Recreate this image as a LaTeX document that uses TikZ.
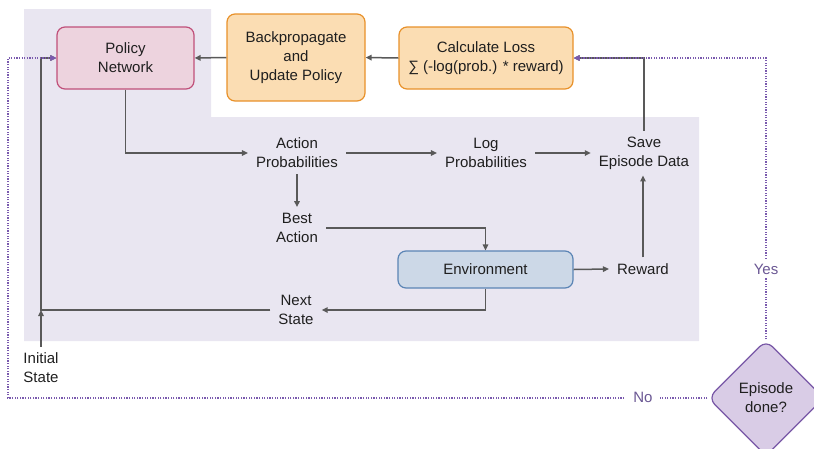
\documentclass[tikz,border=0pt]{standalone}
\usepackage{fontspec}
\setmainfont{Liberation Sans}
\usetikzlibrary{arrows.meta,shapes.geometric}

\definecolor{bgarea}{HTML}{E9E6F1}
\definecolor{linegray}{HTML}{595959}
\definecolor{polfill}{HTML}{EDD3DE}
\definecolor{poldraw}{HTML}{C0507A}
\definecolor{orfill}{HTML}{FBDDB3}
\definecolor{ordraw}{HTML}{E8912A}
\definecolor{envfill}{HTML}{CCD8E7}
\definecolor{envdraw}{HTML}{5B85B5}
\definecolor{decfill}{HTML}{D9CCE6}
\definecolor{decdraw}{HTML}{7857A6}
\definecolor{decline}{HTML}{7A5AAE}
\definecolor{dectext}{HTML}{6B5894}

\tikzset{
    every node/.style={font=\fontsize{15}{19}\selectfont, align=center, text=black!88},
    box/.style={rounded corners=8pt, line width=1.2pt},
    policybox/.style={box, fill=polfill, draw=poldraw},
    trainbox/.style={box, fill=orfill, draw=ordraw},
    envbox/.style={box, fill=envfill, draw=envdraw},
    decision/.style={diamond, rounded corners=9pt, line width=1.2pt, fill=decfill, draw=decdraw,
        minimum width=116pt, minimum height=116pt, inner sep=1pt},
    textlabel/.style={inner xsep=8pt, inner ysep=6pt},
    answer/.style={fill=white, text=dectext, inner xsep=7pt},
    flow/.style={draw=linegray, line width=1.5pt, -{Triangle[length=6pt,width=5.5pt]}},
    loop/.style={draw=decline, line width=1.5pt, dash pattern=on 1.3pt off 1.3pt,
        -{Triangle[length=6pt,width=5.5pt]}}
}

\begin{document}
\begin{tikzpicture}[x=1pt, y=-1pt]
    \useasboundingbox (0,0) rectangle (814,448);
    \clip (0,0) rectangle (814,448);
    \fill[bgarea] (24,9) -- (211,9) -- (211,117) -- (699,117) -- (699,341) -- (24,341) -- cycle;

    \node[policybox, minimum width=137pt, minimum height=62pt] (policy) at (125.5,58) {Policy\\Network};
    \node[trainbox, minimum width=138pt, minimum height=87pt] (backprop) at (296,57.5) {Backpropagate\\and\\Update Policy};
    \node[trainbox, minimum width=174pt, minimum height=62pt] (loss) at (486,58) {Calculate Loss\\∑ (-log(prob.) * reward)};
    \node[envbox, minimum width=175pt, minimum height=37pt] (env) at (485.5,269.5) {Environment};
    \node[decision] (done) at (766,398) {Episode\\done?};

    \node[textlabel] (actprob) at (297,153) {Action\\Probabilities};
    \node[textlabel] (logprob) at (486,153) {Log\\Probabilities};
    \node[textlabel] (save) at (644,153) {Save\\Episode Data};
    \node[textlabel] (best) at (297,228) {Best\\Action};
    \node[textlabel] (reward) at (643,269) {Reward};
    \node[textlabel] (next) at (296,310) {Next\\State};
    \node[textlabel] (init) at (41,368) {Initial\\State};

    \coordinate (feed) at (init |- policy.west);
    \coordinate (outer) at (8,58);

    \draw[flow] (policy.south) |- (actprob.west);
    \draw[flow] (actprob.east) -- (logprob.west);
    \draw[flow] (logprob.east) -- (save.west);
    \draw[flow] (actprob.south) -- (best.north);
    \draw[flow] (best.east) -| (env.north);
    \draw[flow] (env.east) -- (reward.west);
    \draw[flow] (reward.north) -- (reward.north |- save.south);
    \draw[flow] (env.south) |- (next.east);
    \draw[flow] (next.west) -| (feed) -- (policy.west);
    \draw[flow] (init.north) -- (init |- next.west);
    \draw[flow] (save.north) |- (loss.east);
    \draw[flow] (loss.west) -- (backprop.east);
    \draw[flow] (backprop.west) -- (policy.east);

    \draw[loop] (done.north) |- (loss.east);
    \draw[loop] (done.west) -| (outer) -- (policy.west);
    \node[answer] (yes) at (766,269) {Yes};
    \node[answer] (no) at (643,397) {No};
\end{tikzpicture}
\end{document}
